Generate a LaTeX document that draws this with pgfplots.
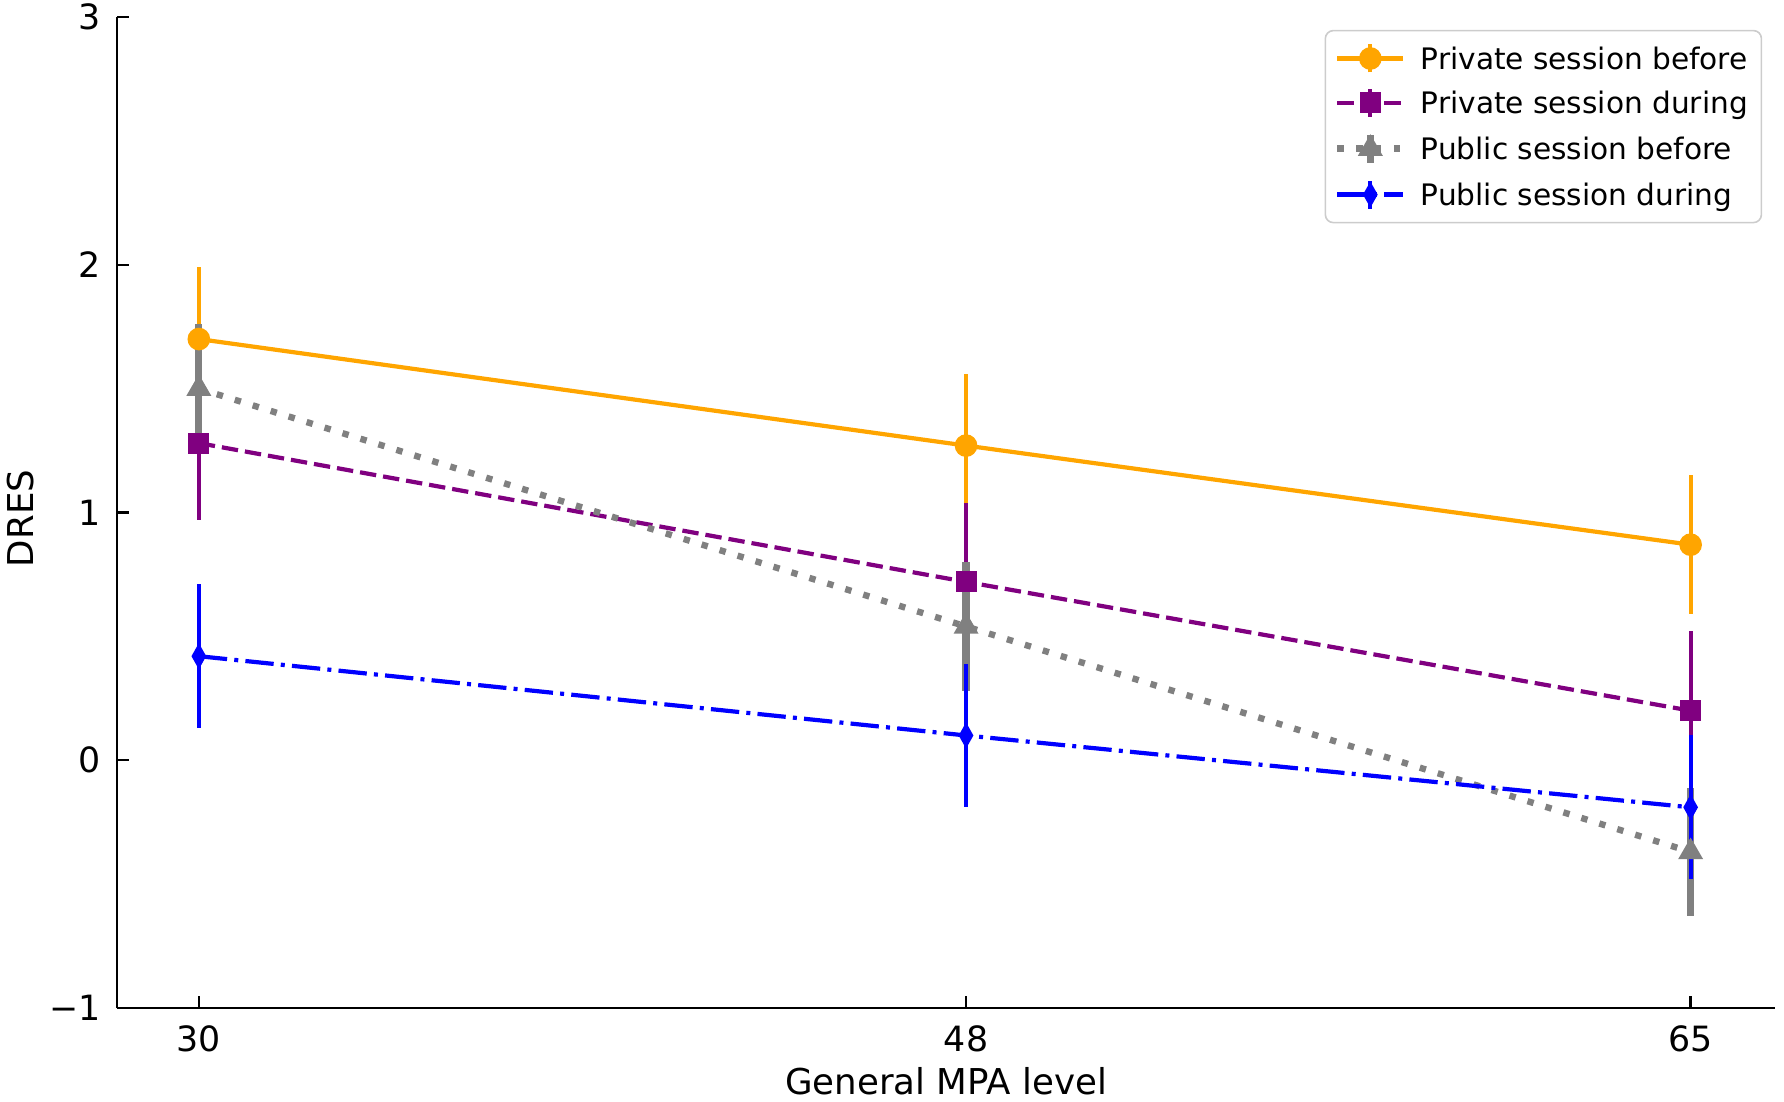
\documentclass[border=0pt]{standalone}
\usepackage{fontspec}
\setmainfont{DejaVu Sans}
\usepackage{pgfplots}
\pgfplotsset{compat=1.18}
\definecolor{cOrange}{HTML}{FFA500}
\definecolor{cPurple}{HTML}{800080}
\definecolor{cGray}{HTML}{808080}
\definecolor{cBlue}{HTML}{0000FF}
\pgfplotsset{
  errleg/.style 2 args={legend image code/.code={
    \draw[#1, line width=#2, solid, mark=none] (8.25pt,-3.5pt) -- (8.25pt,3.5pt);
    \draw[##1, mark=none] (0pt,0pt) -- (16.5pt,0pt);
    \draw[##1] plot coordinates {(8.25pt,0pt)};}},
  ebars/.style 2 args={forget plot, draw=none, mark=none,
    error bars/.cd, y dir=both, y explicit, error mark=none,
    error bar style={draw=#1, line width=#2, solid}},
}
\begin{document}
\begin{tikzpicture}
\begin{axis}[
  scale only axis, width=414.5pt, height=247.75pt,
  xmin=28.08, xmax=66.98, ymin=-1, ymax=3,
  axis x line*=bottom, axis y line*=left,
  axis line style={-, line width=0.6pt, black},
  xtick={30,48,65}, xticklabels={30,48,65},
  ytick={-1,0,1,2,3}, yticklabels={−1,0,1,2,3},
  tick align=inside, major tick length=2.9pt,
  tick style={line width=0.6pt, black},
  ticklabel style={font=\fontsize{8.7}{10.4}\selectfont},
  xticklabel style={yshift=-0.8pt},
  yticklabel style={xshift=-0.5pt},
  xlabel={General MPA level}, ylabel={DRES},
  label style={font=\fontsize{8.9}{10.6}\selectfont},
  xlabel style={at={(axis description cs:0.5,0)}, anchor=base, yshift=-21.6pt},
  ylabel style={at={(axis description cs:0,0.494)}, anchor=center, yshift=24pt},
  legend style={at={(1,1)}, anchor=north east, xshift=-3.2pt, yshift=-3.2pt,
    font=\fontsize{7.4}{9}\selectfont, draw=black!20, rounded corners=2pt,
    inner xsep=2.2pt, inner ysep=3pt, row sep=3.1pt,
    nodes={inner xsep=1.2pt, inner ysep=0pt, text height=5.8pt, text depth=0.5pt},
    /tikz/column 1/.style={column sep=2.35pt}},
  legend cell align=left,
]
\coordinate (ll) at (rel axis cs:0,0);
% error bars (drawn beneath all lines and markers)
\addplot[ebars={cOrange}{0.95pt}]
  coordinates {(30,1.70) +- (0,0.29) (48,1.27) +- (0,0.29) (65,0.87) +- (0,0.28)};
\addplot[ebars={cPurple}{0.95pt}]
  coordinates {(30,1.28) +- (0,0.31) (48,0.72) +- (0,0.32) (65,0.20) +- (0,0.32)};
\addplot[ebars={cGray}{1.8pt}]
  coordinates {(30,1.50) +- (0,0.26) (48,0.54) +- (0,0.26) (65,-0.37) +- (0,0.26)};
\addplot[ebars={cBlue}{1pt}]
  coordinates {(30,0.42) +- (0,0.29) (48,0.10) +- (0,0.29) (65,-0.19) +- (0,0.29)};
% lines and markers
\addplot[cOrange, line width=1.05pt, mark=*, mark size=2.3pt, mark options={solid},
  errleg={cOrange}{0.95pt}]
  coordinates {(30,1.70) (48,1.27) (65,0.87)};
\addlegendentry{Private session before}
\addplot[cPurple, line width=1.05pt, dash pattern=on 4.1pt off 1.75pt, mark=square*, mark size=2.1pt, mark options={solid},
  errleg={cPurple}{0.95pt}]
  coordinates {(30,1.28) (48,0.72) (65,0.20)};
\addlegendentry{Private session during}
\addplot[cGray, line width=1.6pt, dash pattern=on 1.6pt off 3.1pt, mark=triangle*, mark size=2pt, mark options={solid},
  errleg={cGray}{1.8pt}]
  coordinates {(30,1.50) (48,0.54) (65,-0.37)};
\addlegendentry{Public session before}
\addplot[cBlue, line width=1.05pt, dash pattern=on 7.1pt off 1.8pt on 1pt off 1.8pt, mark=diamond*, mark size=2.2pt, mark options={solid, xscale=0.75},
  errleg={cBlue}{1pt}]
  coordinates {(30,0.42) (48,0.10) (65,-0.19)};
\addlegendentry{Public session during}
\end{axis}
\pgfresetboundingbox
\path[use as bounding box] (ll) ++(-29.25pt,-23.25pt) rectangle ++(446pt,275.25pt);
\end{tikzpicture}
\end{document}
